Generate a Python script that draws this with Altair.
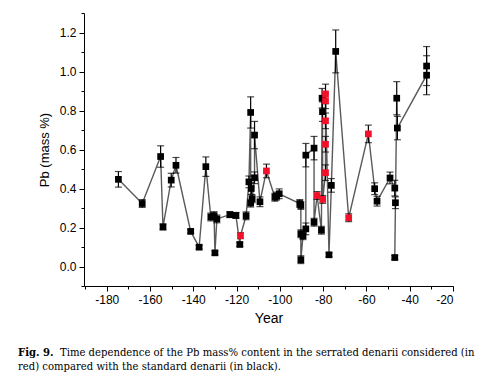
import altair as alt
import pandas as pd

years = [-174.6, -163.6, -155.1, -154.0, -150.2, -148.0, -141.2, -137.3, -134.2, -131.9,
         -130.4, -130.0, -129.1, -123.1, -120.3, -118.5, -118.2, -115.6, -114.3, -113.5,
         -113.5, -113.2, -112.8, -111.7, -111.7, -109.2, -106.2, -102.3, -101.5, -100.3,
         -90.8, -90.3, -90.3, -90.3, -89.3, -88.0, -88.0, -84.2, -84.2, -82.8,
         -80.8, -80.5, -80.3, -80.2, -78.9, -78.9, -78.9, -78.9, -78.9, -77.3,
         -76.2, -74.2, -68.2, -59.1, -56.2, -55.1, -49.1, -46.9, -46.6, -46.9,
         -46.0, -45.7, -32.2, -32.2]
pb = [0.447, 0.323, 0.564, 0.203, 0.443, 0.519, 0.180, 0.099, 0.512, 0.254,
      0.261, 0.070, 0.244, 0.266, 0.262, 0.113, 0.158, 0.260, 0.434, 0.790,
      0.325, 0.400, 0.347, 0.455, 0.674, 0.332, 0.490, 0.355, 0.361, 0.373,
      0.323, 0.313, 0.168, 0.035, 0.158, 0.193, 0.571, 0.607, 0.227, 0.364,
      0.186, 0.863, 0.794, 0.344, 0.481, 0.627, 0.747, 0.850, 0.885, 0.060,
      0.416, 1.103, 0.250, 0.680, 0.399, 0.335, 0.454, 0.402, 0.327, 0.046,
      0.863, 0.710, 0.981, 1.028]
err = [0.04, 0.02, 0.055, 0.015, 0.035, 0.04, 0.01, 0.01, 0.05, 0.02,
       0.02, 0.01, 0.02, 0.015, 0.015, 0.01, 0.015, 0.02, 0.03, 0.08,
       0.02, 0.03, 0.02, 0.03, 0.07, 0.025, 0.035, 0.02, 0.02, 0.025,
       0.02, 0.02, 0.02, 0.02, 0.02, 0.03, 0.06, 0.06, 0.02, 0.02,
       0.02, 0.05, 0.05, 0.02, 0.04, 0.04, 0.04, 0.04, 0.05, 0.01,
       0.035, 0.11, 0.02, 0.045, 0.03, 0.025, 0.03, 0.04, 0.03, 0.01,
       0.085, 0.06, 0.1, 0.1]
group = ["standard"] * 16 + ["serrated"] + ["standard"] * 9 + ["serrated"] + ["standard"] * 12 + \
        ["serrated"] + ["standard"] * 3 + ["serrated"] * 6 + ["standard"] * 3 + ["serrated"] * 2 + \
        ["standard"] * 10

x_major = list(range(-180, -19, 20))
x_minor = list(range(-190, -19, 10))
y_major = [0.0, 0.2, 0.4, 0.6, 0.8, 1.0, 1.2]
y_minor = [round(i / 10, 1) for i in range(-1, 14)]

caption_bold = "Fig. 9."
caption_line1 = "Time dependence of the Pb mass% content in the serrated denarii considered (in"
caption_line2 = "red) compared with the standard denarii (in black)."

df = pd.DataFrame({"year": years, "pb": pb, "err": err, "grp": group})
df["idx"] = range(len(df))
df["lo"] = df["pb"] - df["err"]
df["hi"] = df["pb"] + df["err"]

FONT = "Liberation Sans"
xs = alt.Scale(domain=[-190.5, -20], nice=False, zero=False)
ys = alt.Scale(domain=[-0.1, 1.3], nice=False, zero=False)

x_main = alt.X("year:Q", scale=xs, axis=alt.Axis(
    values=x_major, labelExpr="'' + datum.value", tickSize=5, orient="bottom",
    title="Year", titleFontSize=14, titlePadding=6, labelPadding=3))
y_main = alt.Y("pb:Q", scale=ys, axis=alt.Axis(
    values=y_major, format=".1f", tickSize=5, orient="left",
    title="Pb (mass %)", titleFontSize=13, titlePadding=8, labelPadding=3))
x_min = alt.X("year:Q", scale=xs, axis=alt.Axis(
    values=x_minor, labels=False, domain=False, tickSize=3, orient="bottom", title=None))
y_min = alt.Y("pb:Q", scale=ys, axis=alt.Axis(
    values=y_minor, labels=False, domain=False, tickSize=3, orient="left", title=None))
x_no = alt.X("year:Q", scale=xs, axis=None)
y_no = alt.Y("pb:Q", scale=ys, axis=None)
lo_no = alt.Y("lo:Q", scale=ys, axis=None)
hi_no = alt.Y("hi:Q", scale=ys, axis=None)

base = alt.Chart(df)

line = base.mark_line(color="#5a5a5a", strokeWidth=1.4).encode(x=x_main, y=y_main, order="idx:Q")
minor = base.mark_point(opacity=0).encode(x=x_min, y=y_min)
bars = base.mark_rule(color="black", strokeWidth=1.2).encode(x=x_no, y=lo_no, y2="hi:Q")
cap_lo = base.mark_tick(orient="horizontal", size=7, thickness=1.2, color="black").encode(x=x_no, y=lo_no)
cap_hi = base.mark_tick(orient="horizontal", size=7, thickness=1.2, color="black").encode(x=x_no, y=hi_no)
pts_k = base.transform_filter("datum.grp === 'standard'").mark_point(
    shape="square", filled=True, size=45, opacity=1, color="black").encode(x=x_no, y=y_no)
pts_r = base.transform_filter("datum.grp === 'serrated'").mark_point(
    shape="square", filled=True, size=45, opacity=1, color="#f2102a").encode(x=x_no, y=y_no)

cap_font = "DejaVu Serif Condensed"
cap1b = alt.Chart(pd.DataFrame({"t": [caption_bold]})).mark_text(
    align="left", baseline="alphabetic", font=cap_font, fontSize=11.2, fontWeight="bold", color="black"
).encode(text="t:N", x=alt.value(-66), y=alt.value(343))
cap1 = alt.Chart(pd.DataFrame({"t": [caption_line1]})).mark_text(
    align="left", baseline="alphabetic", font=cap_font, fontSize=11.2, color="black"
).encode(text="t:N", x=alt.value(-24), y=alt.value(343))
cap2 = alt.Chart(pd.DataFrame({"t": [caption_line2]})).mark_text(
    align="left", baseline="alphabetic", font=cap_font, fontSize=11.2, color="black"
).encode(text="t:N", x=alt.value(-66), y=alt.value(357))

chart = alt.layer(line, minor, bars, cap_lo, cap_hi, pts_k, pts_r, cap1b, cap1, cap2).resolve_axis(
    x="independent", y="independent"
).properties(
    width=369, height=273,
    autosize=alt.AutoSizeParams(type="none"),
    padding={"left": 76, "top": 5, "right": 40, "bottom": 93},
).configure_view(stroke=None).configure_axis(
    grid=False, domainColor="black", tickColor="black", labelColor="black", titleColor="black",
    labelFont=FONT, titleFont=FONT, labelFontSize=12, titleFontWeight="normal",
    domainWidth=1, tickWidth=1,
)

chart.save("out.html", embed_options={"renderer": "svg", "actions": False})
